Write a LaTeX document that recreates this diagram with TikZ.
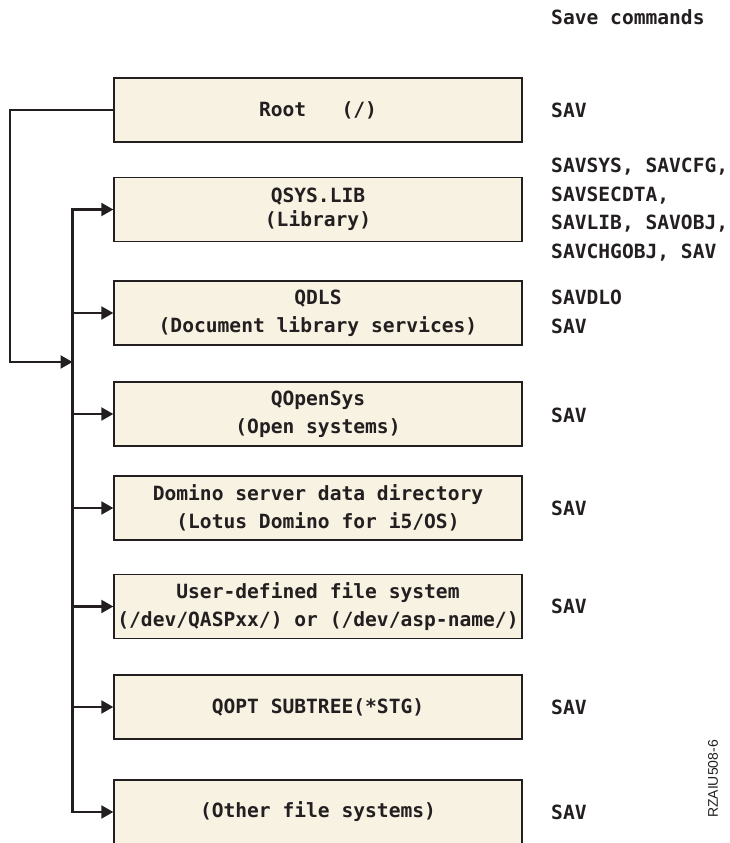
\documentclass[tikz,border=0pt]{standalone}
\usepackage{fontspec}
\usetikzlibrary{arrows.meta}
\newfontfamily\lgfont{DejaVu Sans Mono}
\newfontfamily\rzfont{Liberation Sans}
\definecolor{boxfill}{HTML}{F8F2E2}
\definecolor{ink}{HTML}{231F20}
\begin{document}
\begin{tikzpicture}[x=1pt,y=-1pt,
  fsbox/.style={draw=ink, line width=1.4pt, fill=boxfill, minimum width=408pt,
    minimum height=64pt, inner sep=0pt, align=center, text=ink,
    font=\lgfont\bfseries\fontsize{19.6}{28}\selectfont},
  cmd/.style={anchor=west, inner sep=0pt, align=left, text=ink,
    font=\lgfont\bfseries\fontsize{19.6}{28.5}\selectfont},
  link/.style={draw=ink, line width=2.2pt},
  arr/.style={link, -{Triangle[length=12pt,width=13pt]}}]
\useasboundingbox (0,0) rectangle (729,843);
% boxes
\node[fsbox] (root) at (318,110) {Root\ \ \ (/)};
\node[fsbox, font=\lgfont\bfseries\fontsize{19.6}{23.5}\selectfont] (qsys) at (318,209.5) {QSYS.LIB\\(Library)};
\node[fsbox] (qdls) at (318,313) {QDLS\\(Document library services)};
\node[fsbox] (qopen) at (318,414) {QOpenSys\\(Open systems)};
\node[fsbox] (domino) at (318,508) {Domino server data directory\\(Lotus Domino for i5/OS)};
\node[fsbox] (udfs) at (318,606.5) {User-defined file system\\(/dev/QASPxx/) or (/dev/asp-name/)};
\node[fsbox] (qopt) at (318,707) {QOPT SUBTREE(*STG)};
\node[fsbox] (other) at (318,812) {(Other file systems)};
% save commands
\node[cmd] (hdr) at (551,17.5) {Save commands};
\node[cmd] (croot) at (551,110.5) {SAV};
\node[cmd] (cqsys) at (551,209.5) {SAVSYS, SAVCFG,\\SAVSECDTA,\\SAVLIB, SAVOBJ,\\SAVCHGOBJ, SAV};
\node[cmd] (cqdls) at (551,312) {SAVDLO\\SAV};
\node[cmd] (cqopen) at (551,415) {SAV};
\node[cmd] (cdomino) at (551,508) {SAV};
\node[cmd] (cudfs) at (551,606.5) {SAV};
\node[cmd] (cqopt) at (551,707) {SAV};
\node[cmd] (cother) at (551,812) {SAV};
% label
\node[rotate=90, inner sep=0pt, text=ink, font=\rzfont\fontsize{14}{16}\selectfont] (rz) at (713,779) {RZAIU508-6};
% connectors
\coordinate (trunk) at (72.5,0);
\coordinate (leftx) at (10,0);
\coordinate (join) at (72.5,362);
\draw[arr] (root.west) -- (root.west -| leftx) |- (join);
\draw[link, line cap=rect] (qsys.west -| trunk) -- (other.west -| trunk);
\foreach \b in {qsys,qdls,qopen,domino,udfs,qopt,other}
  \draw[arr] (\b.west -| trunk) -- (\b.west);
\end{tikzpicture}
\end{document}
